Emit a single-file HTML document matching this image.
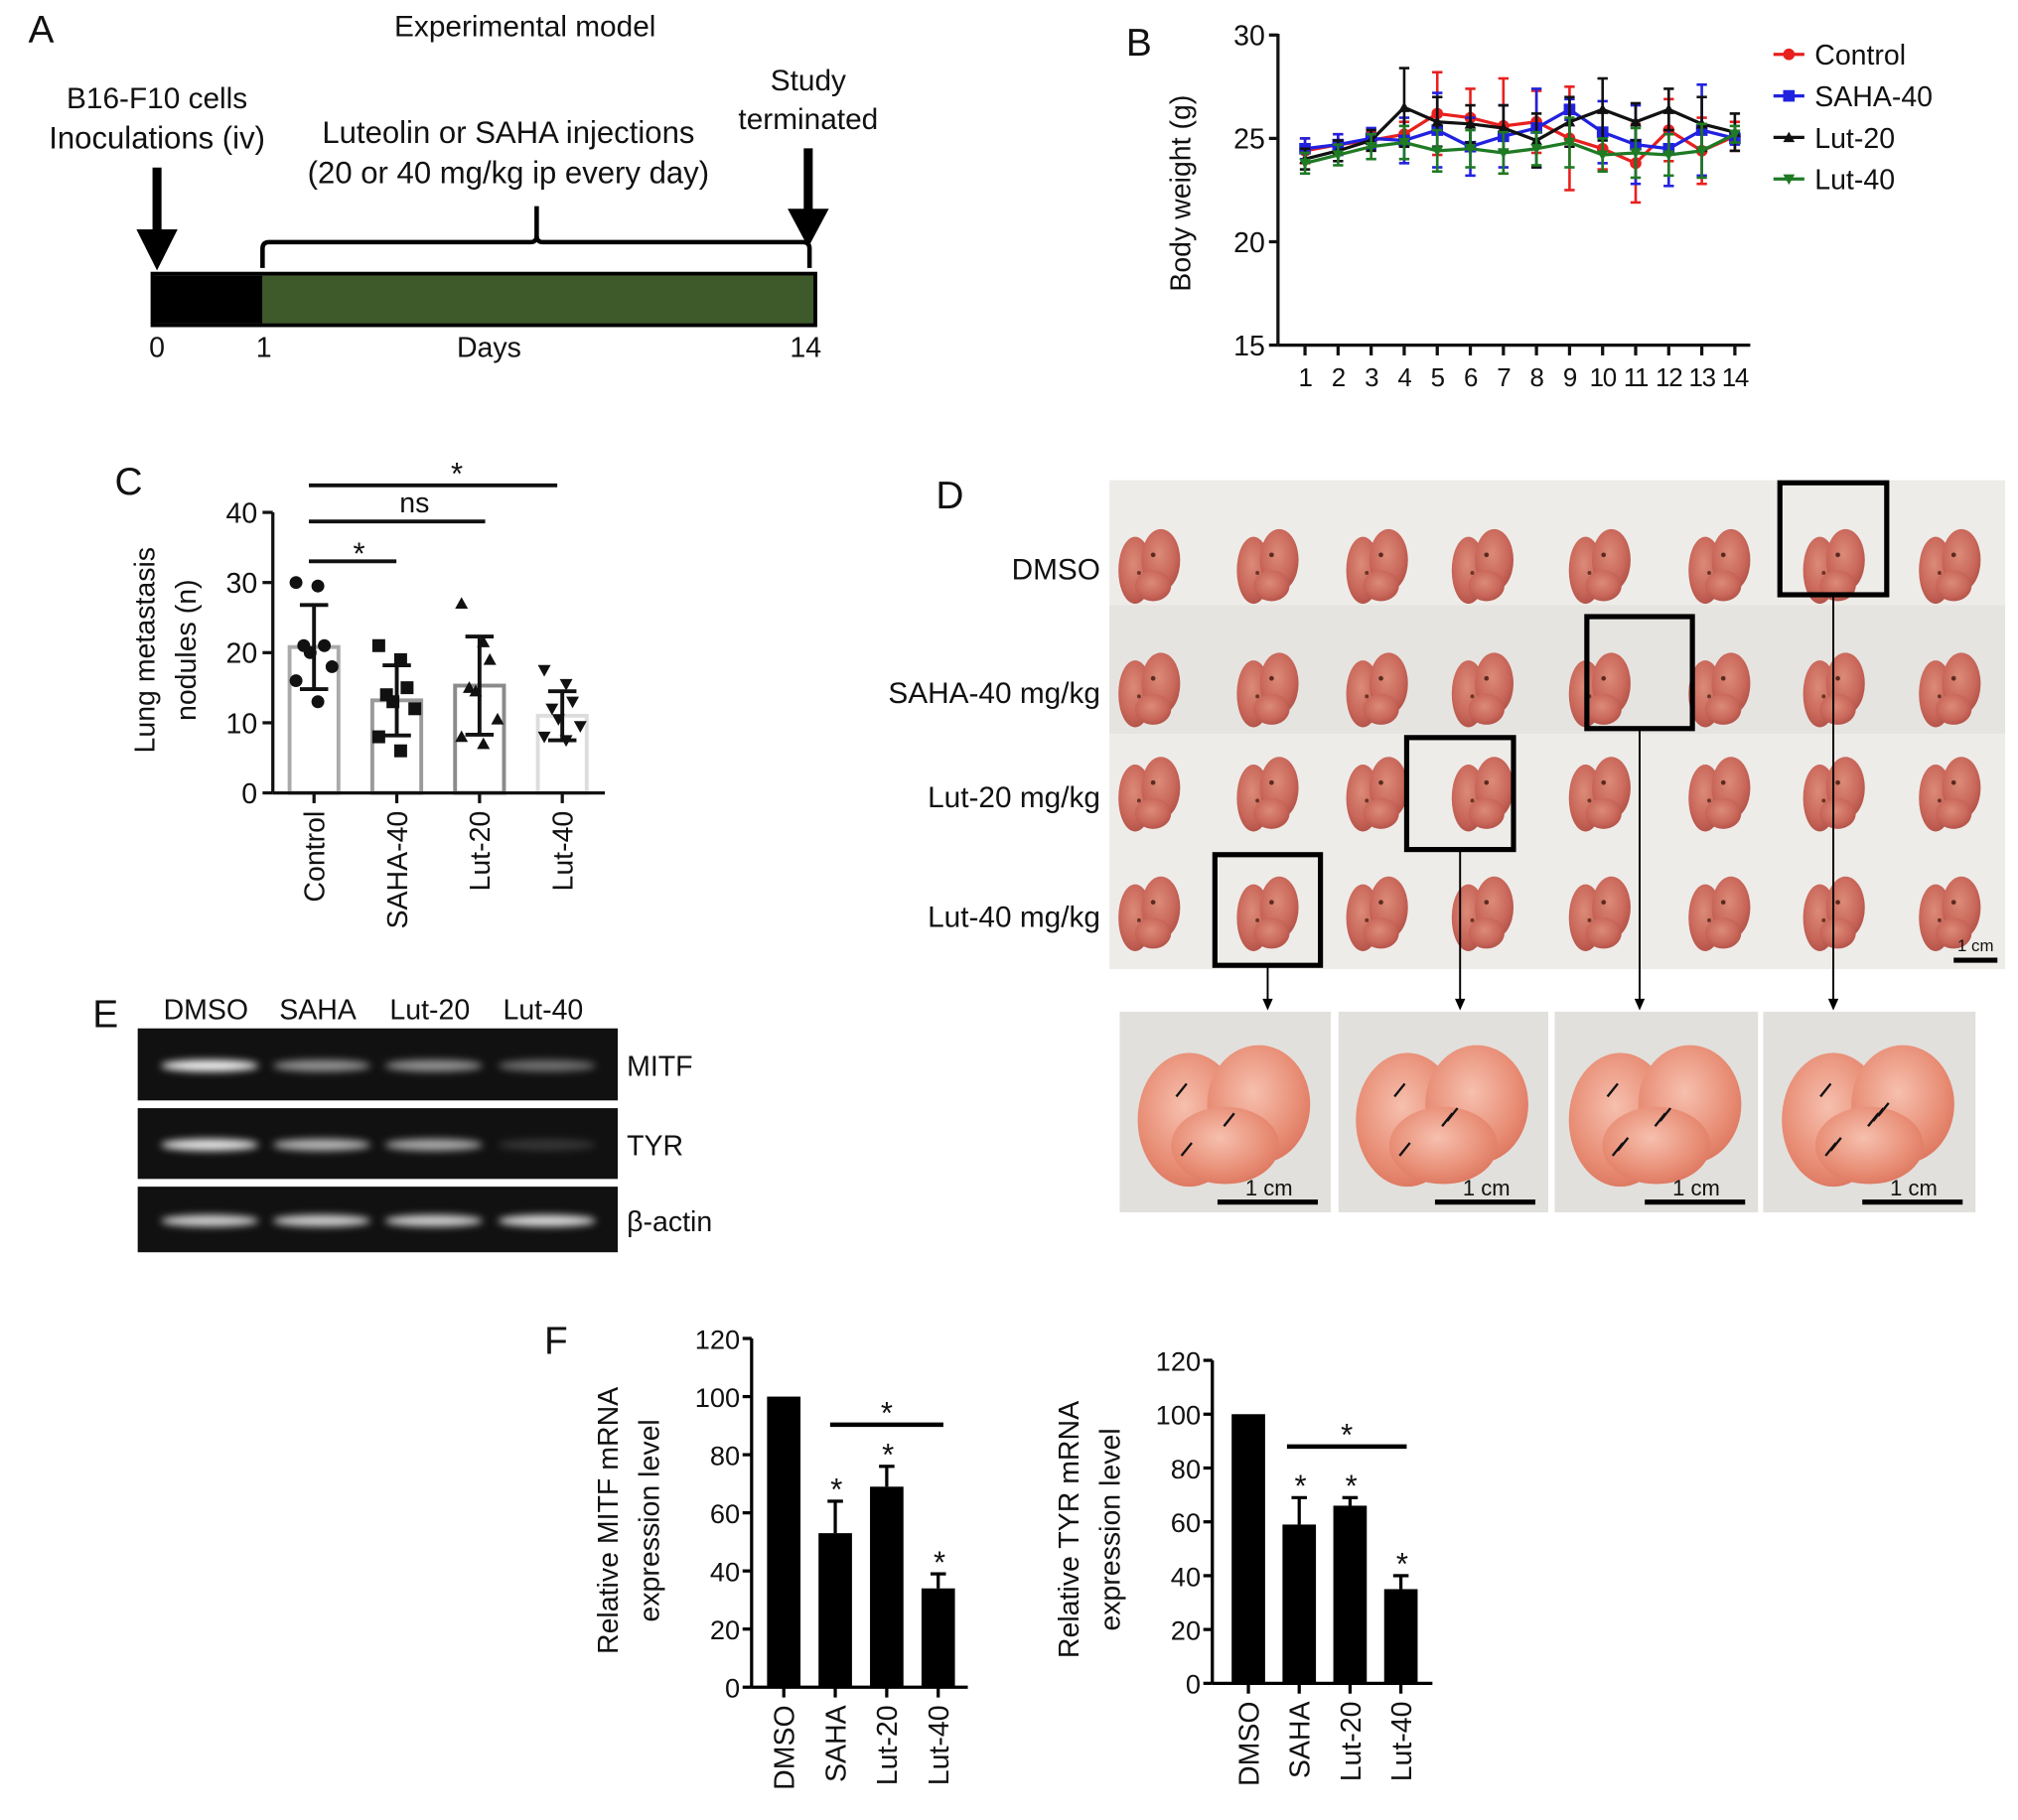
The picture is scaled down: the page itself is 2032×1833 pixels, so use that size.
<!DOCTYPE html>
<html><head><meta charset="utf-8">
<style>
html,body{margin:0;padding:0;background:#fff;}
svg{display:block;font-family:"Liberation Sans",Arial,sans-serif;}
</style></head>
<body>
<svg id="fig" width="2032" height="1833" viewBox="0 0 1568 1414" xmlns="http://www.w3.org/2000/svg">
<defs>
<filter id="blur2" x="-20%" y="-100%" width="140%" height="300%"><feGaussianBlur stdDeviation="3"/></filter>
<radialGradient id="lungG" cx="45%" cy="40%" r="60%"><stop offset="0" stop-color="#dc8b78"/><stop offset="0.7" stop-color="#c9675a"/><stop offset="1" stop-color="#b5544a"/></radialGradient>
<radialGradient id="lungBig" cx="45%" cy="40%" r="65%"><stop offset="0" stop-color="#f6c0ae"/><stop offset="0.7" stop-color="#e88c74"/><stop offset="1" stop-color="#db745d"/></radialGradient>
</defs>
<g id="root"></g>
</svg>
<script>
// ---------- data ----------
const bDays = ['1','2','3','4','5','6','7','8','9','10','11','12','13','14'];
const bTicks = [15,20,25,30];
const bSeriesNames = ['Control','SAHA-40','Lut-20','Lut-40'];
const bControl = [24.4,24.7,24.9,25.2,26.2,26.0,25.6,25.8,25.0,24.5,23.8,25.4,24.4,25.1];
const bControlErr = [0.6,0.5,0.4,0.6,2.0,1.4,2.3,1.5,2.5,1.0,1.9,1.5,1.6,0.7];
const bSaha = [24.5,24.7,25.0,24.9,25.4,24.6,25.1,25.5,26.4,25.3,24.7,24.5,25.4,25.0];
const bSahaErr = [0.5,0.5,0.5,1.1,1.8,1.4,1.5,1.9,0.5,1.5,1.9,1.8,2.2,0.3];
const bLut20 = [24.0,24.4,24.9,26.5,25.8,25.7,25.5,24.9,25.8,26.4,25.8,26.4,25.7,25.3];
const bLut20Err = [0.5,0.5,0.5,1.9,1.2,0.9,1.1,1.3,1.2,1.5,0.9,1.0,1.3,0.9];
const bLut40 = [23.8,24.2,24.6,24.8,24.4,24.5,24.3,24.5,24.8,24.2,24.3,24.2,24.4,25.2];
const bLut40Err = [0.5,0.5,0.6,0.8,1.0,0.9,1.0,0.8,1.2,0.8,1.2,1.0,1.3,0.4];

const cGroups = ['Control','SAHA-40','Lut-20','Lut-40'];
const cTicks = [0,10,20,30,40];
const cMeans = [20.8,13.2,15.3,11.0];
const cSD = [6.0,5.0,7.0,3.5];
const cPtsControl = [30,29.5,21,21,20,18,16,13];
const cPtsSaha = [21,19,15,14,13,12,8,6];
const cPtsLut20 = [27,21.5,19,15,14.5,10.5,8,7];
const cPtsLut40 = [17.5,15.5,13,12,10.5,9.5,8,7.5];

const fGroups = ['DMSO','SAHA','Lut-20','Lut-40'];
const fTicks = [0,20,40,60,80,100,120];
const fMitf = [100,53,69,34];
const fMitfErr = [0,11,7,5];
const fTyr = [100,59,66,35];
const fTyrErr = [0,10,3,5];

const eLanes = ['DMSO','SAHA','Lut-20','Lut-40'];
const eGenes = ['MITF','TYR','β-actin'];
const eIntensity = [[0.95,0.55,0.55,0.4],[0.9,0.7,0.65,0.15],[0.8,0.8,0.8,0.85]];

// ---------- helpers ----------
const NS='http://www.w3.org/2000/svg';
const root=document.getElementById('root');
function mk(tag, attrs, name, parent){
  const e=document.createElementNS(NS,tag);
  for(const k in attrs) e.setAttribute(k,attrs[k]);
  
  
  (parent||root).appendChild(e);
  return e;
}
function txt(x,y,s,size,anchor,name,parent,rot,extra){
  const a={x:x,y:y,'font-size':size,'text-anchor':anchor||'start',fill:'#111'};
  if(rot) a.transform='rotate('+rot+' '+x+' '+y+')';
  if(extra) for(const k in extra) a[k]=extra[k];
  const t=mk('text',a,name,parent);
  t.textContent=s;
  return t;
}
function line(x1,y1,x2,y2,w,c,name,parent){
  return mk('line',{x1:x1,y1:y1,x2:x2,y2:y2,stroke:c||'#111','stroke-width':w||2},name,parent);
}

// ---------- Panel A ----------
const gA=mk('g',{},'panel-a-timeline');
txt(22,33,'A',30,'start','panel-label-a',gA);
txt(408,28,'Experimental model',23,'middle','timeline-title',gA);
txt(122,84,'B16-F10 cells',23,'middle','inoculation-label',gA);
txt(122,115,'Inoculations (iv)',24,'middle','inoculation-label-2',gA);
txt(395,111,'Luteolin or SAHA injections',24,'middle','injection-label',gA);
txt(395,142,'(20 or 40 mg/kg ip every day)',24,'middle','injection-dose-label',gA);
txt(628,70,'Study',23,'middle','study-label',gA);
txt(628,100,'terminated',23,'middle','terminated-label',gA);
mk('rect',{x:120,y:214,width:84,height:37,fill:'#000'},'timeline-bar-day0',gA);
mk('rect',{x:204,y:214,width:428,height:37,fill:'#3e5a2a'},'timeline-bar-treatment',gA);
mk('rect',{x:118.5,y:212.5,width:515,height:40,fill:'none',stroke:'#000','stroke-width':3},'timeline-bar-outline',gA);
line(122,130,122,185,7,'#000','inoculation-arrow-shaft',gA);
mk('polygon',{points:'106,178 138,178 122,210'},'inoculation-arrow-head',gA);
line(628,115,628,168,7,'#000','termination-arrow-shaft',gA);
mk('polygon',{points:'612,162 644,162 628,192'},'termination-arrow-head',gA);
mk('path',{d:'M204,208 L204,193 Q204,188 209,188 L412,188 Q417,188 417,183 L417,160 M417,183 Q417,188 422,188 L624,188 Q629,188 629,193 L629,208',fill:'none',stroke:'#000','stroke-width':3.5},'treatment-brace',gA);
txt(122,277,'0',22,'middle','day-0-label',gA);
txt(205,277,'1',22,'middle','day-1-label',gA);
txt(380,277,'Days',22,'middle','days-label',gA);
txt(626,277,'14',22,'middle','day-14-label',gA);

// ---------- Panel B ----------
const gB=mk('g',{},'panel-b-body-weight-chart');
txt(885,43,'B',30,'middle','panel-label-b',gB);
const bX0=993,bY0=268,bY1=27;
function bx(i){return 1014+i*(1348-1014)/(bDays.length-1);}
function by(v){return bY0-(v-15)*(bY0-bY1)/15;}
line(bX0,bY1-1,bX0,bY0,2.5,'#111','y-axis-b',gB);
line(bX0,bY0,1360,bY0,2.5,'#111','x-axis-b',gB);
bTicks.forEach(v=>{
  line(bX0-7,by(v),bX0,by(v),2.5,'#111','y-tick-b',gB);
  txt(bX0-10,by(v)+8,String(v),22,'end','y-tick-label-b',gB);
});
bDays.forEach((d,i)=>{
  line(bx(i),bY0,bx(i),bY0+8,2.5,'#111','x-tick-b',gB);
  txt(bx(i),bY0+32,d,20,'middle','x-tick-label-b',gB,null,{'letter-spacing':'-1'});
});
txt(925,150,'Body weight (g)',22,'middle','y-axis-title-b',gB,-90);
const bSeries=[[bControl,bControlErr,'#e8201e','circle'],[bSaha,bSahaErr,'#2121e0','square'],[bLut20,bLut20Err,'#111','tri'],[bLut40,bLut40Err,'#1f7a24','tridown']];
function marker(type,x,y,c,s,name,parent){
  if(type==='circle') return mk('circle',{cx:x,cy:y,r:s,fill:c},name,parent);
  if(type==='square') return mk('rect',{x:x-s,y:y-s,width:2*s,height:2*s,fill:c},name,parent);
  if(type==='tri') return mk('polygon',{points:(x-s)+','+(y+s*0.8)+' '+(x+s)+','+(y+s*0.8)+' '+x+','+(y-s),fill:c},name,parent);
  return mk('polygon',{points:(x-s)+','+(y-s*0.8)+' '+(x+s)+','+(y-s*0.8)+' '+x+','+(y+s),fill:c},name,parent);
}
bSeries.forEach((s,si)=>{
  const g=mk('g',{},'series-'+bSeriesNames[si].toLowerCase(),gB);
  s[0].forEach((v,i)=>{
    const x=bx(i);
    line(x,by(v-s[1][i]),x,by(v+s[1][i]),2,s[2],'error-bar',g);
    line(x-4,by(v+s[1][i]),x+4,by(v+s[1][i]),2,s[2],'error-cap',g);
    line(x-4,by(v-s[1][i]),x+4,by(v-s[1][i]),2,s[2],'error-cap',g);
  });
  mk('polyline',{points:s[0].map((v,i)=>bx(i)+','+by(v)).join(' '),fill:'none',stroke:s[2],'stroke-width':2.5},'series-line',g);
  s[0].forEach((v,i)=>{ marker(s[3],bx(i),by(v),s[2],4.5,'data-point',g); });
  const ly=42+si*32.3;
  line(1378,ly,1402,ly,2.5,s[2],'legend-line',gB);
  marker(s[3],1390,ly,s[2],4.5,'legend-marker',gB);
  txt(1410,ly+8,bSeriesNames[si],22,'start','legend-entry',gB);
});

// ---------- Panel C ----------
const gC=mk('g',{},'panel-c-nodules-chart');
txt(100,384,'C',30,'middle','panel-label-c',gC);
const cX0=212,cY0=616,cY1=398;
function cx(i){return 244+i*64.3;}
function cy(v){return cY0-v*(cY0-cY1)/40;}
const cStroke=['#aaa','#9a9a9a','#8a8a8a','#ddd'];
cMeans.forEach((m,i)=>{
  mk('rect',{x:cx(i)-19,y:cy(m),width:38,height:cY0-cy(m),fill:'#fff',stroke:cStroke[i],'stroke-width':3},'bar-'+cGroups[i].toLowerCase(),gC);
});
line(cX0,cY1,cX0,cY0,2.5,'#111','y-axis-c',gC);
line(cX0,cY0,470,cY0,2.5,'#111','x-axis-c',gC);
cTicks.forEach(v=>{
  line(cX0-8,cy(v),cX0,cy(v),2.5,'#111','y-tick-c',gC);
  txt(cX0-12,cy(v)+8,String(v),22,'end','y-tick-label-c',gC);
});
const cPts=[cPtsControl,cPtsSaha,cPtsLut20,cPtsLut40];
const cShape=['circle','square','tri','tridown'];
cPts.forEach((pts,i)=>{
  pts.forEach((v,j)=>{
    const off=((j%3)-1)*11+((j%2)?3:-3);
    marker(cShape[i],cx(i)+off,cy(v),'#111',5,'point-'+cGroups[i].toLowerCase(),gC);
  });
  const m=cMeans[i],sd=cSD[i];
  line(cx(i),cy(m-sd),cx(i),cy(m+sd),3,'#111','sd-bar',gC);
  line(cx(i)-11,cy(m+sd),cx(i)+11,cy(m+sd),3,'#111','sd-cap',gC);
  line(cx(i)-11,cy(m-sd),cx(i)+11,cy(m-sd),3,'#111','sd-cap',gC);
  line(cx(i),cY0,cx(i),cY0+8,2.5,'#111','x-tick-c',gC);
  txt(cx(i)+8,cY0+14,cGroups[i],22,'end','x-tick-label-c',gC,-90);
});
line(240,377,433,377,3,'#111','sig-line-lut40',gC); txt(355,376,'*',24,'middle','sig-star',gC);
line(240,405,377,405,3,'#111','sig-line-lut20',gC); txt(322,398,'ns',22,'middle','sig-ns',gC);
line(240,436,308,436,3,'#111','sig-line-saha',gC); txt(279,438,'*',24,'middle','sig-star',gC);
txt(120,505,'Lung metastasis',22,'middle','y-axis-title-c',gC,-90);
txt(152,505,'nodules (n)',22,'middle','y-axis-title-c-2',gC,-90);

// ---------- Panel D ----------
const gD=mk('g',{},'panel-d-lung-photos');
txt(738,395,'D',30,'middle','panel-label-d',gD);
mk('rect',{x:862,y:373,width:696,height:380,fill:'#eeece9'},'photo-background',gD);
mk('rect',{x:862,y:470,width:696,height:100,fill:'#e6e4e0'},'photo-band',gD);
const dRowY=[437,533,614,707];
const dColX=[893,985,1070,1152,1243,1336,1425,1515];
const rowLabels=['DMSO','SAHA-40 mg/kg','Lut-20 mg/kg','Lut-40 mg/kg'];
rowLabels.forEach((l,r)=>txt(855,dRowY[r]+13,l,23,'end','row-label',gD));
dRowY.forEach((y,r)=>dColX.forEach((x,c)=>{
  const g=mk('g',{},'lung-sample',gD);
  mk('ellipse',{cx:x-11,cy:y+6,rx:13,ry:26,fill:'url(#lungG)'},'lung-lobe-left',g);
  mk('ellipse',{cx:x+9,cy:y-2,rx:15,ry:24,fill:'url(#lungG)'},'lung-lobe-right',g);
  mk('ellipse',{cx:x+3,cy:y+18,rx:14,ry:12,fill:'url(#lungG)'},'lung-lobe-lower',g);
  mk('circle',{cx:x+3,cy:y-6,r:1.8,fill:'#5a2a20'},'lung-spot',g);
  mk('circle',{cx:x-8,cy:y+8,r:1.5,fill:'#6a3428'},'lung-spot',g);
}));
const boxes=[[944,664,1026,750],[1093,573,1176,660],[1233,479,1315,566],[1383,375,1466,462]];
const insets=[[870,786,164],[1040,786,163],[1208,786,158],[1370,786,165]];
boxes.forEach((b,i)=>{
  mk('rect',{x:b[0],y:b[1],width:b[2]-b[0],height:b[3]-b[1],fill:'none',stroke:'#000','stroke-width':4},'zoom-box',gD);
  const ax=(b[0]+b[2])/2;
  line(ax,b[3],ax,778,1.5,'#000','zoom-connector',gD);
  mk('polygon',{points:(ax-4)+',776 '+(ax+4)+',776 '+ax+',785'},'zoom-arrowhead',gD);
  const ins=insets[i];
  const g=mk('g',{},'inset-photo',gD);
  mk('rect',{x:ins[0],y:ins[1],width:ins[2],height:156,fill:'#e2e0dc'},'inset-background',g);
  const cxI=ins[0]+ins[2]/2, cyI=ins[1]+76;
  mk('ellipse',{cx:cxI-28,cy:cyI+8,rx:40,ry:52,fill:'url(#lungBig)'},'inset-lobe-left',g);
  mk('ellipse',{cx:cxI+26,cy:cyI-4,rx:40,ry:46,fill:'url(#lungBig)'},'inset-lobe-right',g);
  mk('ellipse',{cx:cxI,cy:cyI+28,rx:42,ry:30,fill:'url(#lungBig)'},'inset-lobe-lower',g);
  for(let k=0;k<3+i;k++){
    const px=cxI-30+((k*37)%70), py=cyI-20+((k*23)%50);
    line(px-8,py+10,px,py,1.8,'#111','nodule-arrow',g);
  }
  line(ins[0]+ins[2]-88,ins[1]+148,ins[0]+ins[2]-10,ins[1]+148,4,'#000','scale-bar',g);
  txt(ins[0]+ins[2]-48,ins[1]+143,'1 cm',17,'middle','scale-bar-label',g);
});
line(1518,746,1552,746,4,'#000','scale-bar-main',gD);
txt(1535,739,'1 cm',13,'middle','scale-bar-main-label',gD);

// ---------- Panel E ----------
const gE=mk('g',{},'panel-e-gel');
txt(82,798,'E',30,'middle','panel-label-e',gE);
const eLaneX=[163,250,337,425];
const eRowY=[[799,855],[861,916],[922,973]];
eLanes.forEach((l,i)=>txt(eLaneX[i]-3,792,l,22,'middle','lane-label',gE));
eGenes.forEach((gname,r)=>{
  const y0=eRowY[r][0],y1=eRowY[r][1];
  mk('rect',{x:107,y:y0,width:373,height:y1-y0,fill:'#111'},'gel-strip-'+r,gE);
  eIntensity[r].forEach((v,i)=>{
    mk('ellipse',{cx:eLaneX[i],cy:(y0+y1)/2+1,rx:38,ry:4.5,fill:'#fff',opacity:v,filter:'url(#blur2)'},'gel-band',gE);
  });
  txt(487,(y0+y1)/2+9,gname,22,'start','gene-label',gE);
});

// ---------- Panel F ----------
const gF=mk('g',{},'panel-f-mrna-charts');
txt(432,1052,'F',30,'middle','panel-label-f',gF);
function barChart(vals,errs,x0,yTop,yBot,xc0,step,xEnd,sigY,sigX1,sigX2,title,name){
  const g=mk('g',{},name,gF);
  const yy=v=>yBot-v*(yBot-yTop)/120;
  vals.forEach((v,i)=>{
    const x=xc0+i*step;
    if(errs[i]>0){
      line(x,yy(v),x,yy(v+errs[i]),2.5,'#000','error-bar',g);
      line(x-6,yy(v+errs[i]),x+6,yy(v+errs[i]),2.5,'#000','error-cap',g);
      txt(x+1,yy(v+errs[i])-1,'*',24,'middle','sig-star',g);
    }
    mk('rect',{x:x-13,y:yy(v),width:26,height:yBot-yy(v),fill:'#000'},'bar-'+fGroups[i].toLowerCase(),g);
    line(x,yBot,x,yBot+8,2.5,'#000','x-tick',g);
    txt(x+8,yBot+14,fGroups[i],22,'end','x-tick-label',g,-90);
  });
  line(x0,yTop,x0,yBot,2.5,'#000','y-axis',g);
  line(x0,yBot,xEnd,yBot,2.5,'#000','x-axis',g);
  fTicks.forEach(v=>{
    line(x0-7,yy(v),x0,yy(v),2.5,'#000','y-tick',g);
    txt(x0-9,yy(v)+8,String(v),21,'end','y-tick-label',g);
  });
  line(sigX1,sigY,sigX2,sigY,3.5,'#000','sig-line',g);
  txt((sigX1+sigX2)/2,sigY-1,'*',24,'middle','sig-star',g);
  txt(x0-104,(yTop+yBot)/2+6,'Relative '+title+' mRNA',22,'middle','y-axis-title',g,-90);
  txt(x0-72,(yTop+yBot)/2+6,'expression level',22,'middle','y-axis-title-2',g,-90);
}
barChart(fMitf,fMitfErr,584,1040,1311,609,40,752,1107,645,733,'MITF','mitf-chart');
barChart(fTyr,fTyrErr,942,1057,1308,970,39.5,1113,1124,1000,1093,'TYR','tyr-chart');
</script>
</body></html>
